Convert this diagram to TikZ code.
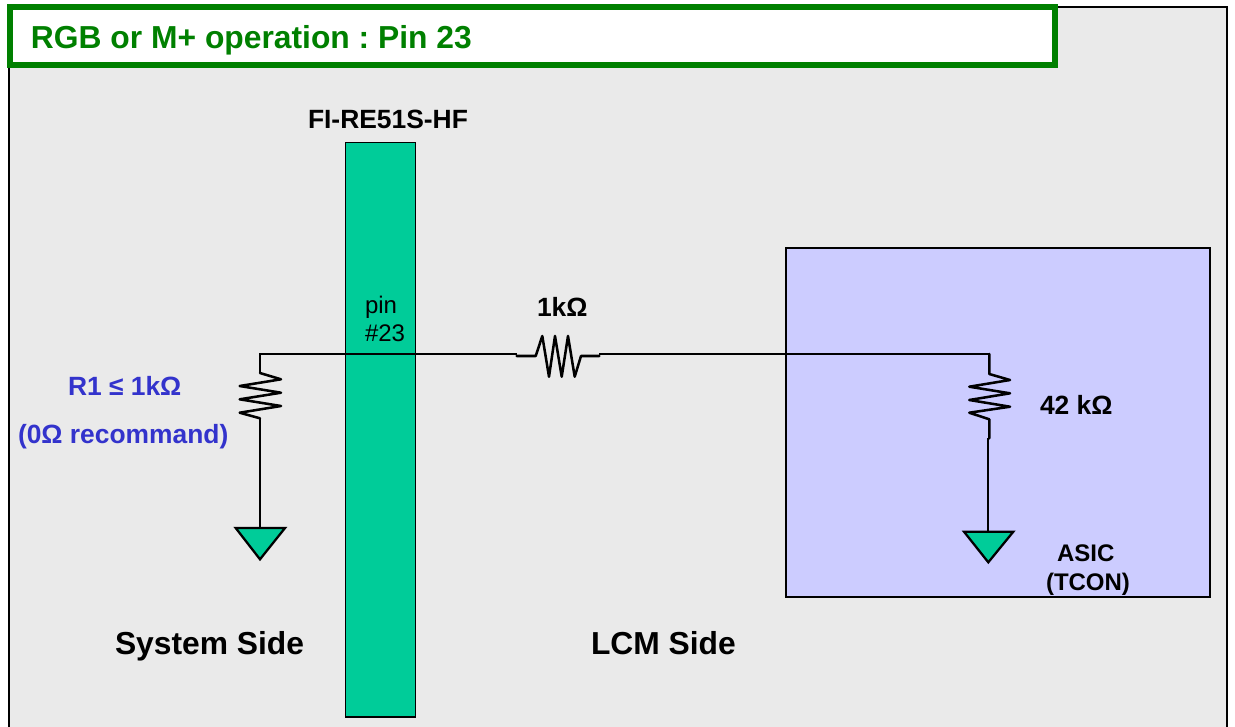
\documentclass[tikz,border=0pt]{standalone}
\usepackage{fontspec}
\setmainfont{Liberation Sans}
\definecolor{panelgray}{HTML}{EAEAEA}
\definecolor{titlegreen}{HTML}{008000}
\definecolor{teal}{HTML}{00CC99}
\definecolor{asicblue}{HTML}{CCCCFF}
\definecolor{valueblue}{HTML}{3333CC}
\tikzset{
  box/.style={draw=black,line width=1.5pt,inner sep=0pt,outer sep=0pt,rectangle},
  wire/.style={draw=black,line width=1.6pt,line join=miter},
  rzig/.style={draw=black,line width=1.9pt,line join=round,line cap=round},
  gnd/.style={draw=black,fill=teal,line width=1.7pt,line join=miter},
  lbl/.style={anchor=base west,inner sep=0pt,outer sep=0pt,font=\bfseries\fontsize{19.8pt}{24pt}\selectfont\frenchspacing},
  big/.style={lbl,font=\bfseries\fontsize{23.85pt}{28pt}\selectfont\frenchspacing},
  small/.style={lbl,font=\bfseries\fontsize{18pt}{22pt}\selectfont\frenchspacing},
  plain/.style={lbl,font=\fontsize{18pt}{22pt}\selectfont\frenchspacing},
}
\begin{document}
\begin{tikzpicture}[x=0.75pt,y=-0.75pt]
\useasboundingbox (0,0) rectangle (1235,726);
\clip (0,0) rectangle (1235,726);
% panels
\node[box,fill=panelgray,minimum width=1218*0.75pt,minimum height=740*0.75pt,anchor=north west] (panel) at (9,7) {};
\node[box,line width=1.2pt,fill=teal,minimum width=70*0.75pt,minimum height=574.5*0.75pt,anchor=north west] (conn) at (345.5,142.5) {};
\node[box,fill=asicblue,minimum width=424*0.75pt,minimum height=349*0.75pt,anchor=north west,line width=1.8pt] (asic) at (786,248) {};
\node[rectangle,draw=titlegreen,fill=white,line width=4.2pt,inner sep=0pt,outer sep=0pt,minimum width=1045.5*0.75pt,minimum height=58*0.75pt,anchor=north west] (title) at (9.7,6.8) {};
% named points
\coordinate (top1) at (260,354);
\coordinate (r1a) at (260,373);
\coordinate (r1b) at (260,418.3);
\coordinate (g1) at (260,528);
\coordinate (rsa) at (516.7,356);
\coordinate (rsb) at (599.3,356);
\coordinate (wl) at (516.7,354);
\coordinate (wr) at (599.3,354);
\coordinate (top2) at (989.3,354);
\coordinate (r2a) at (989.3,374);
\coordinate (r2b) at (989.3,419.3);
\coordinate (r2c) at (989.3,438.3);
\coordinate (g2t) at (988.3,438.3);
\coordinate (g2) at (988.3,531.7);
% wires
\draw[wire] (r1a) -- (top1) -- (wl);
\draw[wire] (wr) -- (top2);
\draw[rzig] (top2) -- (r2a) -- (1010,380) -- (969.3,386.7) -- (1010,393.3) -- (969.3,400) -- (1010,406.7) -- (969.3,412.7) -- (r2b) -- (r2c);
\draw[wire] (g2t) -- (g2);
\draw[rzig] (r1a) -- (281,379.3) -- (239.7,386) -- (281,392.7) -- (239.7,399.3) -- (281,406) -- (239.7,412.7) -- (r1b);
\draw[wire] (r1b) -- (g1);
\draw[rzig] (rsa) -- (535.7,356) -- (542.3,336) -- (549,376.7) -- (555,336) -- (561.7,376.7) -- (568,336) -- (574.7,376.7) -- (581,356) -- (rsb);
% grounds
\draw[gnd] (235.7,528) -- (285,528) -- (260,559.3) -- cycle;
\draw[gnd] (964,531.7) -- (1013.3,531.7) -- (988.3,562.3) -- cycle;
% text
\node[big,text=titlegreen] (ttl) at (31,48.5) {RGB or M+ operation : Pin 23};
\node[lbl] (fi) at (308,128) {FI-RE51S-HF};
\node[plain] (pin) at (365,313) {pin};
\node[plain] (pinn) at (365,341.5) {\#23};
\node[lbl] (rs) at (537,316) {1kΩ};
\node[lbl,text=valueblue] (r1) at (68,395.5) {R1 ≤ 1kΩ};
\node[lbl,text=valueblue] (r0) at (18,443) {(0Ω recommand)};
\node[lbl] (r42) at (1040,414) {42 kΩ};
\node[small] (as) at (1057,561) {ASIC};
\node[small] (tc) at (1046,590.5) {(TCON)};
\node[big] (sys) at (115,654.5) {System Side};
\node[big] (lcm) at (591,654.5) {LCM Side};
\end{tikzpicture}
\end{document}
